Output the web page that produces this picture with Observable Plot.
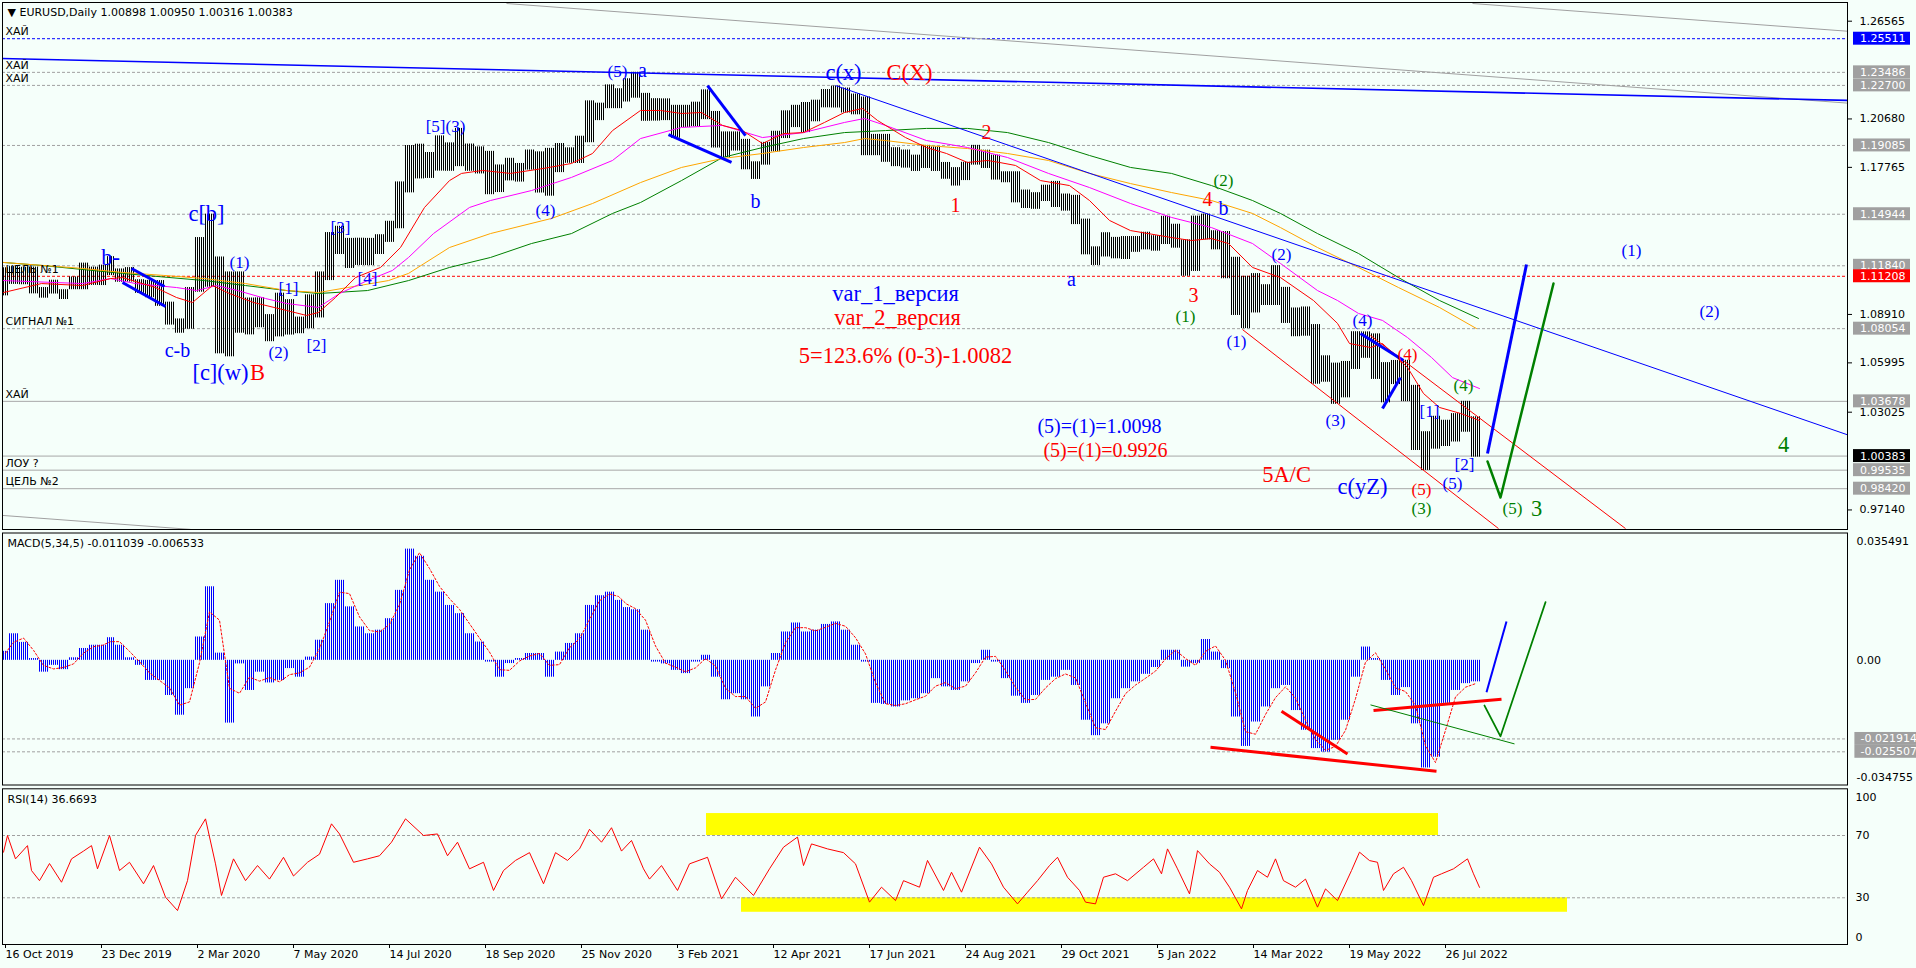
<!DOCTYPE html>
<html lang="ru">
<head>
<meta charset="utf-8">
<title>EURUSD, Daily</title>
<script src="https://cdn.jsdelivr.net/npm/d3@7"></script>
<script src="https://cdn.jsdelivr.net/npm/@observablehq/plot@0.6"></script>
<style>
  html, body { margin: 0; padding: 0; background: #f5fffa; overflow: hidden; }
  #chart svg { display: block; }
</style>
</head>
<body>
<svg width="0" height="0" style="position:absolute">
  <defs>
    <pattern id="pricebars" patternUnits="userSpaceOnUse" x="0" y="0" width="2" height="4">
      <rect x="1" y="0" width="1" height="4" fill="#000000" shape-rendering="crispEdges"></rect>
    </pattern>
    <pattern id="macdbars" patternUnits="userSpaceOnUse" x="0" y="0" width="2" height="4">
      <rect x="1" y="0" width="1" height="4" fill="#0000ff" shape-rendering="crispEdges"></rect>
    </pattern>
  </defs>
</svg>
<div id="chart"></div>
<script>
// ---------------- calendar ----------------
const chartStart = "2019-10-16";
const chartEnd = "2022-08-19";
const firstWeekMonday = "2019-10-14";
const holidays = ["2019-12-25", "2020-01-01", "2020-12-25", "2021-01-01"];
const dateTickLabels = ["16 Oct 2019","23 Dec 2019","2 Mar 2020","7 May 2020","14 Jul 2020","18 Sep 2020","25 Nov 2020","3 Feb 2021","12 Apr 2021","17 Jun 2021","24 Aug 2021","29 Oct 2021","5 Jan 2022","14 Mar 2022","19 May 2022","26 Jul 2022"];

// ---------------- weekly price ranges (one per week from 14 Oct 2019) ----------------
const weekHigh = [
  1.1172,1.1179,1.1175,1.1176,1.1053,1.1097,1.1040,1.1117,1.1200,1.1176,1.1188,1.1239,
  1.1165,1.1173,1.1100,1.1096,1.1095,1.0965,1.0864,1.1053,1.1354,1.1495,1.1237,1.1147,1.1147,1.0990,1.0991,1.0890,1.1019,1.0980,1.0875,1.1009,1.1147,1.1384,1.1422,1.1349,1.1350,1.1349,1.1371,1.1452,1.1689,1.1908,1.1916,1.1866,1.1966,1.1924,1.2011,1.1917,1.1900,1.1873,1.1791,1.1831,1.1800,1.1881,1.1870,1.1891,1.1920,1.1894,1.1964,1.2177,1.2163,1.2273,1.2250,1.2310,
  1.2349,1.2222,1.2190,1.2189,1.2150,1.2150,1.2169,1.2243,1.2113,1.1990,1.1990,1.1945,1.1810,1.1927,1.1994,1.2117,1.2150,1.2167,1.2181,1.2245,1.2266,1.2254,1.2218,1.2200,1.1975,1.1975,1.1895,1.1881,1.1850,1.1909,1.1899,1.1806,1.1775,1.1807,1.1909,1.1880,1.1850,1.1750,1.1750,1.1640,1.1624,1.1669,1.1692,1.1616,1.1608,1.1465,1.1298,1.1383,1.1355,1.1360,1.1360,1.1386,
  1.1365,1.1482,1.1434,1.1340,1.1483,1.1495,1.1395,1.1390,1.1235,1.1121,1.1137,1.1070,1.1185,1.1054,1.0930,1.0936,1.0830,1.0642,1.0598,1.0608,1.0787,1.0786,1.0774,1.0601,1.0614,1.0615,1.0464,1.0185,1.0278,1.0254,1.0294,1.0368,1.0275
];
const weekLow = [
  1.1003,1.1072,1.1070,1.1015,1.0989,1.1014,1.0981,1.1040,1.1040,1.1066,1.1065,1.1125,
  1.1085,1.1086,1.1018,1.0992,1.0940,1.0827,1.0778,1.0802,1.1025,1.1055,1.0654,1.0636,1.0778,1.0768,1.0811,1.0727,1.0756,1.0767,1.0775,1.0805,1.0870,1.1095,1.1252,1.1168,1.1186,1.1185,1.1252,1.1325,1.1407,1.1623,1.1707,1.1710,1.1754,1.1753,1.1781,1.1753,1.1737,1.1612,1.1625,1.1695,1.1688,1.1760,1.1622,1.1603,1.1745,1.1801,1.1800,1.1925,1.2058,1.2130,1.2130,1.2170,
  1.2193,1.2054,1.2055,1.2058,1.1952,1.2016,1.2022,1.2064,1.1893,1.1835,1.1875,1.1762,1.1704,1.1790,1.1870,1.1950,1.2016,1.1986,1.2051,1.2135,1.2134,1.2104,1.2093,1.1847,1.1847,1.1807,1.1781,1.1772,1.1752,1.1770,1.1752,1.1705,1.1664,1.1697,1.1790,1.1770,1.1700,1.1684,1.1563,1.1529,1.1524,1.1571,1.1535,1.1513,1.1432,1.1250,1.1186,1.1237,1.1226,1.1222,1.1265,1.1280,
  1.1272,1.1312,1.1290,1.1121,1.1150,1.1340,1.1280,1.1106,1.0885,1.0806,1.0900,1.0945,1.0945,1.0837,1.0757,1.0760,1.0471,1.0483,1.0350,1.0389,1.0560,1.0627,1.0500,1.0359,1.0469,1.0366,1.0072,0.9952,1.0080,1.0096,1.0123,1.0182,1.0032
];

// ---------------- moving averages (trading day, price) ----------------
const maRedDay = [0,19,39.5,53.5,59.5,76,86.5,94.5,104.5,113,125,141.5,151.5,157.5,166,176,188.5,198.5,210.5,223,229,239.5,253.5,270,284,294.5,304.5,318.5,328.5,339,349,359.5,369.5,379.5,390,400,410.5,420.5,429.5,437,451,461.5,471.5,482,492,498,506,518.5,533,543,553,563.5,584,594,604,612.5,624.5,638.5,655,667,673,683.5,689.5,702,710,718,728.5,738];
const maRedVal = [1.1023,1.1077,1.1065,1.1107,1.1113,1.1053,1.0993,1.0963,1.1065,1.1017,1.0963,1.0915,1.0885,1.0903,1.0993,1.1113,1.1174,1.1294,1.1535,1.1697,1.1740,1.1758,1.1740,1.1770,1.1800,1.1860,1.1998,1.2119,1.2119,1.2101,1.2107,1.2029,1.1998,1.1920,1.1980,1.1986,1.2047,1.2107,1.2131,1.2059,1.1956,1.1896,1.1860,1.1806,1.1818,1.1806,1.1788,1.1697,1.1667,1.1577,1.1457,1.1396,1.1354,1.1336,1.1348,1.1318,1.1174,1.1113,1.0975,1.0837,1.0716,1.0692,1.0716,1.0572,1.0415,1.0331,1.0295,1.0253];
const maMagentaDay = [0,39.5,53.5,66,86.5,96.5,106.5,117,131,141.5,157.5,168,182,194.5,202.5,215,233,243.5,264,284,304.5,318.5,339,359.5,379.5,400,420.5,430.5,441,461.5,482,502,522.5,543,563.5,584,604,624.5,638.5,657,667,677.5,689.5,702,714,724.5,738];
const maMagentaVal = [1.1095,1.1077,1.1107,1.1077,1.1053,1.1035,1.1065,1.1035,1.0987,1.0957,1.0933,1.1017,1.1095,1.1156,1.1234,1.1378,1.1535,1.1577,1.1637,1.1716,1.1818,1.1950,1.2017,1.2029,1.1956,1.1986,1.2047,1.2071,1.2029,1.1938,1.1896,1.1836,1.1740,1.1655,1.1559,1.1475,1.1414,1.1318,1.1198,1.1035,1.0975,1.0897,1.0855,1.0752,1.0632,1.0511,1.0445];
const maOrangeDay = [0,39.5,59.5,80,100.5,121,141.5,157.5,172,192.5,202.5,223,243.5,274,294.5,318.5,339,359.5,379.5,400,420.5,430.5,441,461.5,482,502,522.5,543,563.5,584,604,624.5,638.5,657,677.5,697.5,718,736.5];
const maOrangeVal = [1.1204,1.1168,1.1144,1.1126,1.1107,1.1077,1.1035,1.1023,1.1053,1.1095,1.1138,1.1294,1.1378,1.1469,1.1559,1.1685,1.1776,1.1830,1.1860,1.1896,1.1926,1.1950,1.1938,1.1908,1.1890,1.1860,1.1818,1.1740,1.1679,1.1625,1.1577,1.1499,1.1414,1.1294,1.1174,1.1053,1.0933,1.0806];
const maGreenDay = [0,19,59.5,100.5,121,141.5,157.5,182,202.5,223,243.5,264,284,304.5,318.5,339,359.5,379.5,400,420.5,441,461.5,482,502,522.5,543,563.5,584,604,624.5,638.5,657,677.5,697.5,718,737.5];
const maGreenVal = [1.1204,1.1186,1.1138,1.1095,1.1065,1.1035,1.1017,1.1035,1.1095,1.1174,1.1234,1.1318,1.1378,1.1499,1.1565,1.1697,1.1836,1.1896,1.1950,1.1986,1.1998,1.2011,1.2011,1.1986,1.1926,1.1848,1.1776,1.1740,1.1667,1.1577,1.1499,1.1378,1.1258,1.1113,1.0975,1.0867];

// ---------------- horizontal levels ----------------
const levelsGrayDotted = [1.23486, 1.22700, 1.19085, 1.14944, 1.11840, 1.08054];
const levelsGraySolid = [1.03678, 1.00383, 0.99535, 0.98420];
const levelsBlueDotted = [1.25511];
const levelsRedDotted = [1.11208];
const levelLabelText = ["ХАЙ","ХАЙ","ХАЙ","ЦЕЛЬ №1","СИГНАЛ №1","ХАЙ","ЛОУ ?","ЦЕЛЬ №2"];
const levelLabelValue = [1.25511, 1.23486, 1.22700, 1.11208, 1.08054, 1.03678, 0.99535, 0.98420];

// price scale labels
const priceTicks = [1.26565, 1.20680, 1.17765, 1.08910, 1.05995, 1.03025, 0.97140];
const priceTagsGray = [1.23486, 1.22700, 1.19085, 1.14944, 1.11840, 1.08054, 1.03678, 0.99535, 0.98420];
const priceTagsBlue = [1.25511];
const priceTagsRed = [1.11208];
const priceTagsBid = [1.00383];

// ---------------- drawn objects (trading day, price) ----------------
const grayTrendlines = [
  {x1: 251.5, y1: 1.2763, x2: 924.5, y2: 1.2161},
  {x1: 734.5, y1: 1.2763, x2: 924.5, y2: 1.2594},
  {x1: -0.5, y1: 0.9681, x2: 93.5, y2: 0.9597}
];
const blueLongTrend = [{x1: -1.5, y1: 1.2432, x2: 924.5, y2: 1.2179}];
const blueDownTrend = [{x1: 416, y1: 1.2269, x2: 924.5, y2: 1.0156}];
const redChannel = [
  {x1: 619.5, y1: 1.0800, x2: 747.5, y2: 0.9602},
  {x1: 683.5, y1: 1.0764, x2: 811, y2: 0.9602}
];
const blueWedges = [
  {x1: 64, y1: 1.1168, x2: 80.5, y2: 1.1059},
  {x1: 59.5, y1: 1.1083, x2: 81, y2: 1.0939},
  {x1: 352, y1: 1.2269, x2: 371, y2: 1.1968},
  {x1: 332.5, y1: 1.1974, x2: 364, y2: 1.1806},
  {x1: 678.5, y1: 1.0776, x2: 700, y2: 1.0614},
  {x1: 689.5, y1: 1.0325, x2: 698.5, y2: 1.0511}
];
const blueForecast = [{x1: 742, y1: 1.0054, x2: 761.5, y2: 1.1192}];
const greenForecastDay = [742, 748.5, 775];
const greenForecastPrice = [1.0006, 0.9789, 1.1077];

// ---------------- wave labels ----------------
const waveText = ["b-","c[b]","(1)","c-b","[c](w)","B","(2)","[2]","[1]","[3]","[4]","[5](3)","(4)","(5)","a","b","c(x)","C(X)","2","1","a","var_1_версия","var_2_версия","5=123.6% (0-3)-1.0082","3","(1)","(2)","4","b","(2)","(1)","(4)","(4)","(4)","(3)","[1]","[2]","c(yZ)","(5)","(5)","(3)","(5)","3","4","(1)","(2)","(5)=(1)=1.0098","(5)=(1)=0.9926","5A/C"];
const waveDay = [53.5,101.5,118,87,108.5,127,137.5,156.5,142.5,168.5,182,221,271,307,319.5,376,420,453,491.5,476,534,446,447,451,595,591,610,602,610,639,616.5,679.5,702,730,666,713,730.5,679.5,709,724.5,709,754.5,766.5,890,814,853,548,551,641.5];
const wavePrice = [1.1234,1.1499,1.1204,1.0674,1.0542,1.0542,1.0662,1.0704,1.1047,1.1414,1.1107,1.2023,1.1517,1.2354,1.2360,1.1571,1.2348,1.2348,1.1986,1.1547,1.1101,1.1017,1.0873,1.0644,1.1005,1.0879,1.1697,1.1583,1.1529,1.1252,1.0728,1.0855,1.0650,1.0463,1.0253,1.0307,0.9988,0.9855,0.9837,0.9873,0.9723,0.9723,0.9723,1.0108,1.1276,1.0909,1.0216,1.0072,0.9927];
const waveCount = ["v1","v1","v1","v1","v1","v2","v1","v1","v1","v1","v1","v1","v1","v1","v1","v1","v1","v2","v2","v2","v1","v1","v2","v2","v2","v3","v3","v2","v1","v1","v1","v1","v2","v3","v1","v1","v1","v1","v2","v1","v3","v3","v3","v3","v1","v1","v1","v2","v2"];
const waveDegree = ["major","major","minor","mid","major","major","minor","minor","minor","minor","minor","minor","minor","minor","mid","mid","major","major","mid","mid","mid","major","major","major","mid","minor","minor","mid","mid","minor","minor","minor","minor","minor","minor","minor","minor","major","minor","minor","minor","minor","major","major","minor","minor","mid","mid","major"];

// ---------------- MACD(5,34,5), weekly readings ----------------
const macdHist = [
  0.0025,0.0074,0.0050,0.0005,-0.0033,-0.0014,-0.0026,0.0007,0.0033,0.0042,
  0.0042,0.0063,0.0042,0.0007,-0.0014,-0.0056,-0.0056,-0.0098,-0.0153,-0.0079,
  0.0065,0.0205,0.0020,-0.0175,-0.0010,-0.0084,-0.0033,-0.0063,-0.0056,-0.0023,
  -0.0047,0.0009,0.0056,0.0158,0.0223,0.0149,0.0093,0.0074,0.0084,0.0116,
  0.0195,0.0310,0.0290,0.0223,0.0190,0.0153,0.0130,0.0074,0.0051,-0.0005,
  -0.0047,-0.0009,0.0005,0.0019,0.0019,-0.0047,0.0023,0.0047,0.0074,0.0153,
  0.0180,0.0190,0.0167,0.0147,0.0141,0.0084,-0.0005,-0.0010,-0.0028,-0.0037,
  -0.0005,0.0014,-0.0047,-0.0110,-0.0093,-0.0110,-0.0158,-0.0074,0.0019,0.0079,
  0.0104,0.0079,0.0084,0.0100,0.0107,0.0084,0.0042,-0.0005,-0.0120,-0.0123,
  -0.0130,-0.0113,-0.0107,-0.0093,-0.0051,-0.0074,-0.0084,-0.0060,-0.0009,0.0028,
  -0.0005,-0.0051,-0.0100,-0.0120,-0.0098,-0.0056,-0.0047,-0.0028,-0.0070,-0.0167,
  -0.0210,-0.0177,-0.0107,-0.0079,-0.0060,-0.0039,-0.0020,0.0028,0.0028,-0.0019,
  -0.0009,0.0058,0.0023,-0.0023,-0.0158,-0.0240,-0.0172,-0.0130,-0.0079,-0.0070,
  -0.0140,-0.0195,-0.0246,-0.0256,-0.0223,-0.0167,-0.0047,0.0037,0.0005,-0.0056,
  -0.0098,-0.0076,-0.0177,-0.0300,-0.0270,-0.0120,-0.0084,-0.0065,-0.0060
];
const macdSignal = [
  0.0020,0.0050,0.0062,0.0028,-0.0014,-0.0024,-0.0020,-0.0010,0.0020,0.0038,
  0.0042,0.0052,0.0052,0.0025,-0.0004,-0.0035,-0.0056,-0.0077,-0.0125,-0.0116,
  -0.0007,0.0135,0.0112,-0.0078,-0.0092,-0.0047,-0.0058,-0.0048,-0.0060,-0.0040,
  -0.0035,-0.0019,0.0032,0.0107,0.0190,0.0186,0.0121,0.0083,0.0079,0.0100,
  0.0155,0.0252,0.0300,0.0256,0.0206,0.0172,0.0142,0.0102,0.0062,0.0023,
  -0.0026,-0.0028,-0.0002,0.0012,0.0019,-0.0014,-0.0012,0.0035,0.0060,0.0113,
  0.0166,0.0185,0.0178,0.0157,0.0144,0.0112,0.0040,-0.0008,-0.0019,-0.0032,
  -0.0021,0.0005,-0.0016,-0.0078,-0.0101,-0.0101,-0.0134,-0.0116,-0.0027,0.0049,
  0.0091,0.0091,0.0082,0.0092,0.0103,0.0095,0.0063,0.0018,-0.0062,-0.0121,
  -0.0126,-0.0121,-0.0110,-0.0100,-0.0072,-0.0062,-0.0079,-0.0072,-0.0035,0.0009,
  0.0011,-0.0028,-0.0075,-0.0110,-0.0109,-0.0077,-0.0051,-0.0038,-0.0049,-0.0118,
  -0.0188,-0.0193,-0.0142,-0.0093,-0.0069,-0.0050,-0.0030,0.0004,0.0028,0.0005,
  -0.0014,0.0025,0.0040,0.0000,-0.0090,-0.0199,-0.0206,-0.0151,-0.0104,-0.0074,
  -0.0105,-0.0167,-0.0220,-0.0251,-0.0240,-0.0195,-0.0107,-0.0005,0.0021,-0.0025,
  -0.0077,-0.0087,-0.0126,-0.0238,-0.0285,-0.0195,-0.0102,-0.0075,-0.0065
];
const macdLevels = [-0.021914, -0.025507];
const macdRange = [-0.034755, 0.035491];
const macdRedLines = [
  {x1: 603.5, y1: -0.02425, x2: 716.5, y2: -0.03094},
  {x1: 639, y1: -0.0142, x2: 672, y2: -0.02609},
  {x1: 685, y1: -0.0140, x2: 749, y2: -0.01085}
];
const macdGreenThin = [{x1: 683.5, y1: -0.01242, x2: 755.5, y2: -0.0233}];
const macdBlueForecast = [{x1: 741.5, y1: -0.0089, x2: 751.5, y2: 0.01083}];
const macdGreenForecastDay = [740.5, 748.5, 771];
const macdGreenForecastVal = [-0.01261, -0.02118, 0.01621];

// ---------------- RSI(14) ----------------
const rsiDay = [0,2,6,12,14,18,23,29,34,40,44,47,53,58,63,70,75,81,87,92,96,101,106,109,115,121,127,133,140,145,152,158,164,168,175,182,188,194,201,210,217,222,227,233,240,245,250,256,263,270,276,282,288,293,299,304,309,314,320,323,329,337,343,352,359,366,375,383,390,397,400,404,412,420,426,433,439,446,450,458,462,470,474,479,488,494,500,507,512,517,523,527,532,538,541,546,550,556,562,570,575,579,582,587,593,597,603,608,613,619,622,627,632,636,640,646,651,657,661,667,674,678,683,687,690,695,700,704,710,715,719,725,732,735,738];
const rsiVal = [59.3,70,55,63.5,47.5,41,52,40,55,60,63.5,48.6,70,47.5,52.8,39,50.7,30.4,21.8,41,70,80.7,51.8,31.5,55,41,50.7,42,56,44,52.8,58,77.5,71,52.8,55,57,65.7,80.7,70,71,57,65.7,48.6,52.8,34.7,47.5,54,59,39,59,54,61.4,74,65.7,75,60,66.8,48.6,42,50.7,34.7,51.8,56,29.3,43.2,31.5,48.6,62.5,69,50.7,64.6,61.4,59,51.8,27.2,36.8,28.2,41,36.8,54,34.7,46.4,33.6,62.5,51.8,36.8,26.1,33.6,41,50.7,56,43.2,34.7,27.2,26.1,43.2,45.4,41,49.6,55,45.4,61.4,48.6,32.5,60.3,51.8,46.4,36.8,22.9,34.7,47.5,43.2,55,41,36.8,42,24,35.7,28.2,47.5,59.3,53.9,52.8,34.7,45.4,49.6,41,25,43.2,45.4,48.6,55,45.4,36.7];
const rsiLevels = [70, 30];
const rsiScaleLabels = [100, 70, 30, 0];
const rsiZones = [
  {x1: 351.5, x2: 717.5, y1: 70, y2: 84.1},
  {x1: 369, x2: 782, y1: 20.7, y2: 30}
];

// ---------------- headers ----------------
const mainHeader = "▼ EURUSD,Daily 1.00898 1.00950 1.00316 1.00383";
const macdHeader = "MACD(5,34,5) -0.011039 -0.006533";
const rsiHeader = "RSI(14) 36.6693";

// ======================================================================
const W = 1916;
const X_MAX = 922;
const X_DOMAIN = [-0.5, X_MAX];
const DAY = 86400000;
const utc = s => { const [y, m, d] = s.split("-").map(Number); return Date.UTC(y, m - 1, d); };
const isoOf = t => new Date(t).toISOString().slice(0, 10);

const tradingDays = [];
for (let t = utc(chartStart); t <= utc(chartEnd); t += DAY) {
  const wd = new Date(t).getUTCDay();
  if (wd === 0 || wd === 6) continue;
  if (holidays.includes(isoOf(t))) continue;
  tradingDays.push(t);
}
const dayIndex = new Map(tradingDays.map((t, i) => [t, i]));

const weeks = weekHigh.map((h, k) => {
  const mon = utc(firstWeekMonday) + 7 * k * DAY;
  const idx = [];
  for (let j = 0; j < 5; j++) { const i = dayIndex.get(mon + j * DAY); if (i !== undefined) idx.push(i); }
  const a = idx[0], b = idx[idx.length - 1];
  return {x1: a - 0.5, x2: b + 0.5, xc: (a + b) / 2, high: h, low: weekLow[k], macd: macdHist[k], signal: macdSignal[k]};
});

const parseTick = d3.utcParse("%d %b %Y");
const dateTicks = dateTickLabels.map(s => dayIndex.get(+parseTick(s)));
const tickLabelOf = new Map(dateTicks.map((d, i) => [d, dateTickLabels[i]]));

const pts = (xs, ys) => xs.map((x, i) => ({x, y: ys[i]}));
const baseStyle = {background: "transparent", color: "#000", fontFamily: "DejaVu Sans, sans-serif", fontSize: "11px"};
const link = (data, o) => Plot.link(data, {x1: "x1", y1: "y1", x2: "x2", y2: "y2", clip: true, ...o});

// wave label styling
const countColor = {v1: "#0000ff", v2: "#ff0000", v3: "#008000"};
const degreeSize = {minor: 17, mid: 20, major: 22.5};
const waves = waveText.map((t, i) => ({t, d: waveDay[i], p: wavePrice[i], c: waveCount[i], g: waveDegree[i]}));
const waveMarks = [];
for (const c of Object.keys(countColor)) for (const g of Object.keys(degreeSize)) {
  const sub = waves.filter(w => w.c === c && w.g === g);
  if (sub.length) waveMarks.push(Plot.text(sub, {x: "d", y: "p", text: "t", fill: countColor[c], fontSize: degreeSize[g], fontFamily: "Liberation Serif, serif"}));
}

// price tags
const TAG_H = 0.0039;
const priceTag = (levels, bg, fg) => [
  Plot.rect(levels, {x1: () => X_MAX + 3, x2: () => X_MAX + 31.5, y1: d => d - TAG_H, y2: d => d + TAG_H, fill: bg}),
  Plot.text(levels, {x: () => X_MAX + 6.3, y: d => d, text: d => d.toFixed(5), textAnchor: "start", fill: fg})
];

const main = Plot.plot({
  width: W, height: 531, marginTop: 2, marginBottom: 2, marginLeft: 2, marginRight: 69,
  style: baseStyle,
  x: {domain: X_DOMAIN, axis: null},
  y: {domain: [0.95963, 1.27691], axis: null},
  marks: [
    Plot.ruleY(levelsGrayDotted, {stroke: "#a0a0a0", strokeDasharray: "3,2"}),
    Plot.ruleY(levelsGraySolid, {stroke: "#a8a8a8"}),
    Plot.ruleY(levelsBlueDotted, {stroke: "#0000ff", strokeDasharray: "3,2"}),
    Plot.ruleY(levelsRedDotted, {stroke: "#ff0000", strokeDasharray: "3,2"}),
    link(grayTrendlines, {stroke: "#a0a0a0"}),
    Plot.rect(weeks, {x1: "x1", x2: "x2", y1: "low", y2: "high", fill: "url(#pricebars)"}),
    Plot.line(pts(maGreenDay, maGreenVal), {x: "x", y: "y", stroke: "#008000", strokeWidth: 1}),
    Plot.line(pts(maOrangeDay, maOrangeVal), {x: "x", y: "y", stroke: "#ffa500", strokeWidth: 1}),
    Plot.line(pts(maMagentaDay, maMagentaVal), {x: "x", y: "y", stroke: "#ff00ff", strokeWidth: 1}),
    Plot.line(pts(maRedDay, maRedVal), {x: "x", y: "y", stroke: "#ff0000", strokeWidth: 1}),
    link(blueLongTrend, {stroke: "#0000ff", strokeWidth: 1.6}),
    link(blueDownTrend, {stroke: "#0000ff", strokeWidth: 1}),
    link(redChannel, {stroke: "#ff0000", strokeWidth: 1}),
    link(blueWedges, {stroke: "#0000ff", strokeWidth: 3}),
    link(blueForecast, {stroke: "#0000ff", strokeWidth: 3}),
    Plot.line(pts(greenForecastDay, greenForecastPrice), {x: "x", y: "y", stroke: "#008000", strokeWidth: 2.5}),
    Plot.text(levelLabelValue, {y: d => d, text: (d, i) => levelLabelText[i], frameAnchor: "left", dx: 3, dy: -7, textAnchor: "start", fill: "#000"}),
    ...waveMarks,
    Plot.text([mainHeader], {frameAnchor: "top-left", dx: 5, dy: 6, lineAnchor: "top", textAnchor: "start", fill: "#000"}),
    Plot.axisY(priceTicks, {anchor: "right", tickSize: 4, tickPadding: 8, tickFormat: d => d.toFixed(5)}),
    ...priceTag(priceTagsGray, "#a0a0a0", "#ffffff"),
    ...priceTag(priceTagsBlue, "#0000ff", "#ffffff"),
    ...priceTag(priceTagsRed, "#ff0000", "#ffffff"),
    ...priceTag(priceTagsBid, "#000000", "#ffffff"),
    Plot.frame({stroke: "#000"})
  ]
});

const macd = Plot.plot({
  width: W, height: 256, marginTop: 1.5, marginBottom: 2.5, marginLeft: 2, marginRight: 69,
  style: baseStyle,
  x: {domain: X_DOMAIN, axis: null},
  y: {domain: macdRange, axis: null},
  marks: [
    Plot.ruleY(macdLevels, {stroke: "#a0a0a0", strokeDasharray: "3,2"}),
    Plot.rect(weeks, {x1: "x1", x2: "x2", y1: () => 0, y2: "macd", fill: "url(#macdbars)"}),
    Plot.line(weeks, {x: "xc", y: "signal", stroke: "#ff0000", strokeDasharray: "2,2", strokeWidth: 1}),
    link(macdRedLines, {stroke: "#ff0000", strokeWidth: 3}),
    link(macdGreenThin, {stroke: "#008000", strokeWidth: 1}),
    link(macdBlueForecast, {stroke: "#0000ff", strokeWidth: 2}),
    Plot.line(pts(macdGreenForecastDay, macdGreenForecastVal), {x: "x", y: "y", stroke: "#008000", strokeWidth: 1.8}),
    Plot.text([macdHeader], {frameAnchor: "top-left", dx: 5, dy: 6, lineAnchor: "top", textAnchor: "start", fill: "#000"}),
    Plot.text([macdRange[1]], {y: d => d, text: d => d.toFixed(6), frameAnchor: "right", dx: 9, dy: 8.5, textAnchor: "start", fill: "#000"}),
    Plot.text([0], {y: d => d, text: () => "0.00", frameAnchor: "right", dx: 9, textAnchor: "start", fill: "#000"}),
    Plot.text([macdRange[0]], {y: d => d, text: d => d.toFixed(6), frameAnchor: "right", dx: 9, dy: -7.5, textAnchor: "start", fill: "#000"}),
    Plot.rect(macdLevels, {x1: () => X_MAX + 3.7, x2: () => X_MAX + 40, y1: d => d - 0.0018, y2: d => d + 0.0018, fill: "#a0a0a0"}),
    Plot.text(macdLevels, {x: () => X_MAX + 6.5, y: d => d, text: d => d.toFixed(6), textAnchor: "start", fill: "#ffffff"}),
    Plot.frame({stroke: "#000"})
  ]
});

const rsi = Plot.plot({
  width: W, height: 181, marginTop: 1.3, marginBottom: 24, marginLeft: 2, marginRight: 69,
  style: baseStyle,
  x: {domain: X_DOMAIN, axis: null},
  y: {domain: [0, 100], axis: null},
  marks: [
    Plot.rect(rsiZones, {x1: "x1", x2: "x2", y1: "y1", y2: "y2", fill: "#ffff00"}),
    Plot.ruleY(rsiLevels, {stroke: "#a0a0a0", strokeDasharray: "3,2"}),
    Plot.line(pts(rsiDay, rsiVal), {x: "x", y: "y", stroke: "#ff0000", strokeWidth: 1}),
    Plot.text([rsiHeader], {frameAnchor: "top-left", dx: 5, dy: 6.5, lineAnchor: "top", textAnchor: "start", fill: "#000"}),
    Plot.text([rsiScaleLabels[0]], {y: d => d, text: d => String(d), frameAnchor: "right", dx: 8, dy: 8.4, textAnchor: "start", fill: "#000"}),
    Plot.text(rsiScaleLabels.slice(1, 3), {y: d => d, text: d => String(d), frameAnchor: "right", dx: 8, textAnchor: "start", fill: "#000"}),
    Plot.text([rsiScaleLabels[3]], {y: d => d, text: d => String(d), frameAnchor: "right", dx: 8, dy: -7.3, textAnchor: "start", fill: "#000"}),
    Plot.axisX(dateTicks, {anchor: "bottom", tickSize: 4, tickPadding: 2, tickFormat: d => tickLabelOf.get(d), textAnchor: "start", dx: 2}),
    Plot.frame({stroke: "#000"})
  ]
});

const host = document.getElementById("chart");
host.append(main, macd, rsi);
</script>
</body>
</html>
